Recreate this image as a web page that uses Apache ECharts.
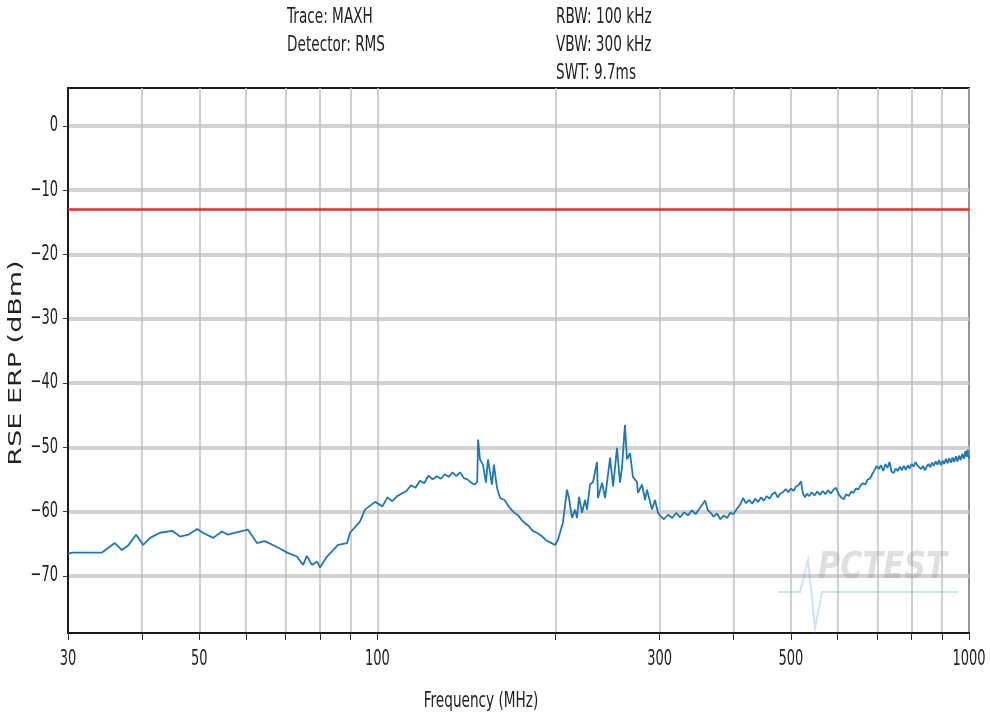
<!DOCTYPE html>
<html>
<head>
<meta charset="utf-8">
<script src="https://cdn.jsdelivr.net/npm/echarts@6/dist/echarts.min.js"></script>
<style>
  html, body { margin: 0; padding: 0; background: #fff; }
  #chart { width: 990px; height: 719px; }
</style>
</head>
<body>
<div id="chart"></div>
<script>
// RSE ERP sweep, 30 MHz - 1 GHz (MAXH / RMS)
var freqMHz = [
  30, 30.5, 34.2, 36.0, 37.0, 37.9, 39.1, 40.2, 41.3, 42.9, 45.0, 46.4, 47.9, 49.6, 50.7, 52.8, 54.6, 55.9, 58.0,
  60.4, 62.6, 64.5, 66.6, 68.5, 70.4, 73.1, 74.9, 76.0, 77.5, 79.1, 80.0, 82.2, 85.8, 88.9, 89.9, 93.4, 95.3, 99.1,
  102, 104, 106, 108, 110, 112, 114, 116, 118, 120, 122, 124, 126, 128, 130, 132, 134, 136, 138, 140, 142, 144, 146,
  147.5, 148.0, 149.1, 150.8, 152.6, 153.8, 156.2, 157.4, 159.3,
  161.2, 164, 167, 170, 173, 176, 180, 183, 186, 190, 193, 196, 199.6, 202.0, 205.9, 209.2, 210.8, 213.3, 215.8,
  217.5, 219.2, 221.8, 224.4, 226.1, 228.8, 231.5, 235.1, 236.0, 239.8, 242.6, 247.4, 250.3, 254.1, 257.1, 259.1,
  262.1, 264.2, 267.3, 270.4, 274.7, 275.7, 280.1, 283.4, 285.6, 291.2, 294.6, 298.1,
  300, 305, 310, 315, 320, 325, 330, 335, 340, 345, 350, 355, 358, 362, 366, 370, 375, 380, 385, 390, 395, 400,
  405, 410, 415, 420, 425, 430, 435, 440, 445, 450, 455, 460, 465, 470, 475, 480, 485, 490, 495, 500, 505, 510,
  515, 520, 524, 528, 532, 537, 542, 548, 554, 560, 566, 572, 578, 584, 590, 596, 602, 608, 614, 620, 626, 632,
  638, 644, 650, 656, 662, 668, 674, 680, 686, 692, 698, 704, 710, 716, 722, 728, 734, 740, 746, 752, 758, 764,
  770, 776, 782, 788, 794, 800, 806, 812, 818, 824, 830, 836, 842, 848, 854, 860, 866, 872, 878, 884, 890, 896,
  902, 908, 914, 920, 926, 932, 938, 944, 950, 956, 962, 968, 974, 980, 986, 990, 994, 1000];
var levelDbm = [
  -66.6, -66.4, -66.4, -64.9, -66.0, -65.3, -63.6, -65.2, -64.1, -63.3, -63.0, -63.9, -63.6, -62.7, -63.3, -64.1, -63.1, -63.6, -63.2,
  -62.8, -64.9, -64.6, -65.2, -65.8, -66.4, -67.0, -68.3, -66.9, -68.3, -67.8, -68.7, -67.0, -65.2, -64.9, -63.3, -61.6, -59.7, -58.5,
  -59.2, -57.8, -58.4, -57.6, -57.2, -56.8, -55.9, -56.3, -55.2, -55.6, -54.4, -55.0, -54.5, -54.9, -54.2, -54.6, -53.9, -54.5, -53.9, -54.8, -55.0, -55.5, -55.8,
  -55.4, -48.8, -51.9, -52.7, -55.5, -51.9, -55.8, -52.7, -56.3,
  -57.9, -58.2, -59.3, -60.1, -60.6, -61.5, -62.2, -63.0, -63.3, -63.9, -64.5, -64.8, -65.2, -64.4, -61.7, -56.6, -57.9, -61.0, -59.7,
  -61.0, -57.7, -60.2, -58.2, -59.7, -55.8, -55.4, -52.3, -57.9, -55.5, -57.9, -51.6, -56.1, -50.1, -55.5, -53.2,
  -46.5, -51.9, -50.9, -54.6, -55.4, -57.1, -55.8, -58.2, -56.6, -59.7, -58.2, -60.2,
  -60.6, -61.2, -60.5, -61.0, -60.2, -60.9, -60.1, -60.6, -59.8, -60.4, -59.6, -58.8, -58.3, -59.8, -60.2, -60.8, -60.3, -61.2, -60.6, -61.0, -60.2, -60.4,
  -59.6, -59.0, -57.9, -58.7, -58.2, -58.8, -58.0, -58.5, -57.8, -58.3, -57.6, -58.0, -57.3, -57.0, -57.8, -57.2, -57.0, -56.5, -57.0, -56.4, -56.8, -56.1,
  -55.9, -55.3, -57.2, -57.8, -57.2, -57.6, -57.0, -57.5, -56.9, -57.4, -56.8, -57.3, -56.7, -57.2, -56.6, -56.3, -57.3, -57.8, -58.1, -57.3, -57.6, -56.9,
  -57.1, -56.4, -56.6, -55.9, -55.6, -55.8, -55.0, -54.9, -54.2, -53.6, -52.9, -53.4, -52.8, -53.7, -52.6, -53.2, -52.3, -53.8, -54.0, -53.3, -53.7, -53.0,
  -53.6, -52.9, -53.5, -52.8, -53.3, -52.6, -53.0, -52.3, -52.8, -52.5, -53.4, -52.9, -53.6, -53.0, -52.6, -53.1, -52.4, -52.9, -52.2, -52.7, -52.0, -52.8,
  -52.1, -52.6, -51.8, -52.5, -51.7, -52.4, -51.6, -52.3, -51.4, -52.2, -51.3, -52.0, -51.0, -51.8, -50.6, -51.5, -50.4, -51.8];
var limitDbm = -13;
var gridFreqs = [30, 40, 50, 60, 70, 80, 90, 100, 200, 300, 400, 500, 600, 700, 800, 900, 1000];
var labelFreqs = [30, 50, 100, 300, 500, 1000];
var yTicks = [0, -10, -20, -30, -40, -50, -60, -70];
var yMin = -78.9, yMax = 5.9;

var font = '"DejaVu Sans", sans-serif';
var squeeze = 0.62;

var trace = freqMHz.map(function(f, i) { return [Math.log10(f), levelDbm[i]]; });

var chart = echarts.init(document.getElementById('chart'));
chart.setOption({
  animation: false,
  grid: {
    left: 68, right: 21, top: 88, bottom: 86,
    show: true, borderColor: '#1a1a1a', borderWidth: 2
  },
  xAxis: {
    type: 'value',
    min: Math.log10(30),
    max: 3,
    axisLine: { show: true, onZero: false, lineStyle: { color: '#1a1a1a', width: 2 } },
    axisTick: {
      show: true, length: 7,
      customValues: gridFreqs.map(function(f) { return Math.log10(f); }),
      lineStyle: { color: '#333', width: 1 }
    },
    axisLabel: { show: false },
    splitLine: { show: true, lineStyle: { color: '#bfbfbf', width: 1.5 } }
  },
  yAxis: {
    type: 'value',
    min: yMin,
    max: yMax,
    axisLine: { show: true, lineStyle: { color: '#1a1a1a', width: 2 } },
    axisTick: { show: true, length: 5, customValues: yTicks, lineStyle: { color: '#333' } },
    axisLabel: { show: false },
    splitLine: { show: true, lineStyle: { color: '#d2d2d2', width: 4 } }
  },
  series: [{
    type: 'line',
    data: trace,
    showSymbol: false,
    lineStyle: { color: '#1f77b4', width: 1.8 },
    z: 3,
    markLine: {
      silent: true,
      symbol: 'none',
      label: { show: false },
      lineStyle: { color: '#f02828', width: 2.5, type: 'solid' },
      data: [{ yAxis: limitDbm }]
    }
  }]
});

// tick labels placed through the axes' own scale, drawn narrow like the source
var graphics = [];
labelFreqs.forEach(function(f) {
  var p = chart.convertToPixel({ gridIndex: 0 }, [Math.log10(f), yMin]);
  graphics.push({ type: 'text', x: p[0], y: p[1] + 27, scaleX: squeeze,
    style: { text: String(f), font: '21px ' + font, fill: '#222', align: 'center', verticalAlign: 'middle' } });
});
yTicks.forEach(function(v) {
  var p = chart.convertToPixel({ gridIndex: 0 }, [Math.log10(30), v]);
  graphics.push({ type: 'text', x: p[0] - 10, y: p[1], scaleX: squeeze,
    style: { text: v < 0 ? '\u2212' + Math.abs(v) : String(v), font: '21px ' + font, fill: '#222', align: 'right', verticalAlign: 'middle' } });
});

graphics.push(
  { type: 'text', x: 287, y: 3, scaleX: squeeze,
    style: { text: 'Trace: MAXH\nDetector: RMS', font: '22px ' + font, lineHeight: 28, fill: '#222' } },
  { type: 'text', x: 556, y: 3, scaleX: squeeze,
    style: { text: 'RBW: 100 kHz\nVBW: 300 kHz\nSWT: 9.7ms', font: '22px ' + font, lineHeight: 28, fill: '#222' } },
  { type: 'text', x: 481, y: 701, scaleX: squeeze,
    style: { text: 'Frequency (MHz)', font: '22px ' + font, fill: '#222', align: 'center', verticalAlign: 'middle' } },
  { type: 'text', x: 17, y: 363, rotation: Math.PI / 2, scaleY: squeeze,
    style: { text: 'RSE ERP (dBm)', font: '27px ' + font, fill: '#222', align: 'center', verticalAlign: 'middle' } },
  { type: 'text', x: 818, y: 549, z: 1, scaleX: 0.8,
    style: { text: 'PCTEST', font: 'italic bold 38px ' + font, fill: 'rgba(150,150,150,0.3)' } },
  { type: 'polyline', z: 1,
    shape: { points: [[778, 592], [800, 592], [808, 560], [815, 628], [822, 592], [958, 592]] },
    style: { stroke: 'rgba(120,170,220,0.35)', lineWidth: 2, fill: null } }
);
chart.setOption({ graphic: graphics });
</script>
</body>
</html>
